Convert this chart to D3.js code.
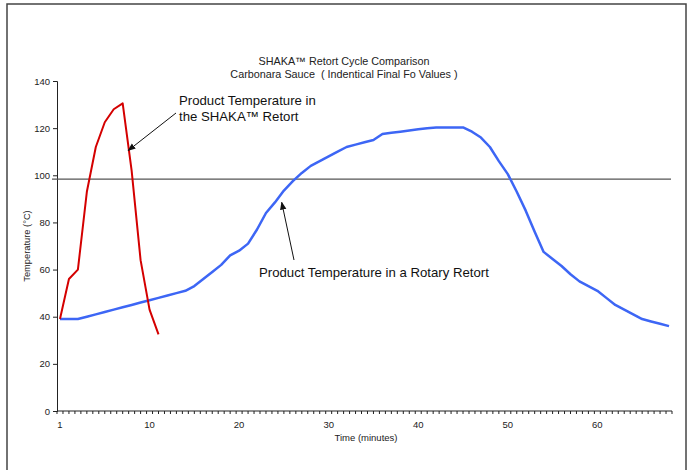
<!DOCTYPE html>
<html><head><meta charset="utf-8">
<script src="https://cdn.jsdelivr.net/npm/d3@7"></script>
<style>body{margin:0;background:#fff;}svg{display:block;font-family:"Liberation Sans",Arial,sans-serif;}text{white-space:pre;}</style>
</head><body>
<svg id="c" width="688" height="470"></svg>
<script>
// Time in minutes (x position) and temperatures
const shakaTime = [0,1,2,3,4,5,6,7,8,9,10,11];
const shakaTemp = [39,56,60,93,112,122.5,128,130.5,102,64,43,32.5];
const rotaryTime = d3.range(0,69);
const rotaryTemp = [39,39,39,40,41,42,43,44,45,46,47,48,49,50,51,53,56,59,62,66,
  68,71,77,84,88.5,93.5,97.5,101,104,106,108,110,112,113,114,115,117.5,118,118.5,119,
  119.5,120,120.3,120.3,120.3,120.3,118.5,116,112,106,100.5,93,85,76,67.5,64.5,61.5,58,55,53,
  51,48,45,43,41,39,38,37,36];
const refTemp = 98.4;
const xTickValues = [0,10,20,30,40,50,60];
const xTickLabels = ["1","10","20","30","40","50","60"];
const yTickValues = [0,20,40,60,80,100,120,140];
const titleLines = ["SHAKA™ Retort Cycle Comparison","Carbonara Sauce  ( Indentical Final Fo Values )"];

const svg = d3.select("#c");
// outer frame
svg.append("rect").attr("x",7).attr("y",4).attr("width",679).attr("height",480)
  .attr("fill","none").attr("stroke","#444").attr("stroke-width",1.5);

const x = d3.scaleLinear().domain([-1/3, 68 + 1/3]).range([57, 672]);
const y = d3.scaleLinear().domain([0,140]).range([411, 81]);

// y axis
const yAxis = d3.axisLeft(y).tickValues(yTickValues).tickSize(4).tickPadding(3);
const gy = svg.append("g").attr("transform","translate(57,0)").call(yAxis);
gy.selectAll("text").attr("font-size",9.5).attr("fill","#222").attr("font-family","Liberation Sans, Arial, sans-serif");
gy.selectAll("line,path").attr("stroke","#222");

// x axis: minor ticks at category boundaries
const minorTicks = d3.range(0,104).map(i => -1/3 + i*2/3).filter(v => v <= 68.34);
const gx = svg.append("g").attr("transform","translate(0,411)");
gx.append("line").attr("x1",x(-1/3)).attr("x2",x(68+1/3)).attr("stroke","#222").attr("stroke-width",1.2);
gx.selectAll("line.t").data(minorTicks).join("line").attr("class","t")
  .attr("x1",d=>x(d)).attr("x2",d=>x(d)).attr("y1",0).attr("y2",3).attr("stroke","#222");
gx.selectAll("text").data(xTickValues).join("text")
  .attr("x",d=>x(d)).attr("y",17).attr("text-anchor","middle").attr("font-size",9.5).attr("fill","#222")
  .text((d,i)=>xTickLabels[i]);

// reference line
svg.append("line").attr("x1",x(-1/3)-5).attr("x2",x(68+1/3)-1).attr("y1",y(refTemp)).attr("y2",y(refTemp))
  .attr("stroke","#555").attr("stroke-width",1.2);

const line = d3.line().x(d=>x(d[0])).y(d=>y(d[1]));
svg.append("path").datum(rotaryTime.map((t,i)=>[t,rotaryTemp[i]])).attr("d",line)
  .attr("fill","none").attr("stroke","#3d66f5").attr("stroke-width",2.5).attr("stroke-linejoin","round");
svg.append("path").datum(shakaTime.map((t,i)=>[t,shakaTemp[i]])).attr("d",line)
  .attr("fill","none").attr("stroke","#d40000").attr("stroke-width",2).attr("stroke-linejoin","round");

// titles
svg.selectAll("text.title").data(titleLines).join("text").attr("class","title")
  .attr("x",344).attr("y",(d,i)=>65+i*13).attr("text-anchor","middle").attr("font-size",10.8).attr("fill","#222").text(d=>d);
svg.append("text").attr("transform","translate(30,246) rotate(-90)").attr("text-anchor","middle")
  .attr("font-size",9.3).attr("fill","#222").text("Temperature (°C)");
svg.append("text").attr("x",366).attr("y",441).attr("text-anchor","middle").attr("font-size",9.5).attr("fill","#222").text("Time (minutes)");

// annotations
const defs = svg.append("defs");
defs.append("marker").attr("id","ah").attr("viewBox","0 0 10 10").attr("refX",9).attr("refY",5)
  .attr("markerWidth",8).attr("markerHeight",8).attr("orient","auto")
  .append("path").attr("d","M0,1 L10,5 L0,9 Z").attr("fill","#111");
svg.append("text").attr("x",179).attr("y",105).attr("font-size",13.2).attr("fill","#111").text("Product Temperature in");
svg.append("text").attr("x",179).attr("y",121).attr("font-size",13.2).attr("fill","#111").text("the SHAKA™ Retort");
svg.append("line").attr("x1",176).attr("y1",113).attr("x2",x(7.5)+1).attr("y2",y(110.5))
  .attr("stroke","#111").attr("stroke-width",1).attr("marker-end","url(#ah)");
svg.append("text").attr("x",259).attr("y",277).attr("font-size",13.2).attr("fill","#111").text("Product Temperature in a Rotary Retort");
svg.append("line").attr("x1",294).attr("y1",260).attr("x2",x(24.7)+0.5).attr("y2",y(88.5))
  .attr("stroke","#111").attr("stroke-width",1).attr("marker-end","url(#ah)");
</script>
</body></html>
